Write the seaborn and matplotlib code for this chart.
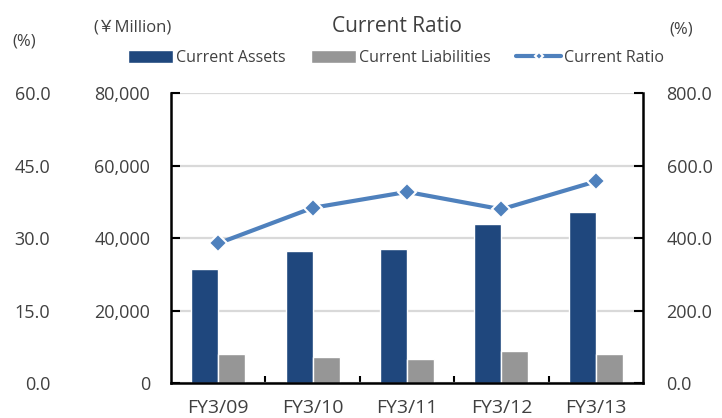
import numpy as np
import pandas as pd
import seaborn as sns
import matplotlib.pyplot as plt
from matplotlib.lines import Line2D
from matplotlib.patches import Patch

# data
years = ['FY3/09', 'FY3/10', 'FY3/11', 'FY3/12', 'FY3/13']
current_assets = [31400, 36600, 37000, 43900, 47300]       # ¥ million
current_liabilities = [8150, 7250, 6800, 9000, 8150]       # ¥ million
current_ratio = [386.0, 484.0, 528.0, 480.0, 557.0]        # %

left_ticks = [0, 20000, 40000, 60000, 80000]
right_ticks = [0, 200, 400, 600, 800]
outer_ticks = [0, 15, 30, 45, 60]

C_ASSETS = '#1F477D'
C_LIAB = '#969696'
C_RATIO = '#4F81BD'
TXT = '#404040'

sns.set_theme(style='white')
plt.rcParams['font.family'] = ['Open Sans', 'Noto Sans CJK JP', 'DejaVu Sans']

df = pd.DataFrame({
    'year': years * 2,
    'value': current_assets + current_liabilities,
    'kind': ['Current Assets'] * 5 + ['Current Liabilities'] * 5,
})

fig = plt.figure(figsize=(7.22, 4.18), dpi=100)
ax = fig.add_axes([171 / 722, 1 - 383.3 / 418, (643 - 171) / 722, (383.3 - 93.3) / 418])

sns.barplot(data=df, x='year', y='value', hue='kind', order=years,
            palette=[C_ASSETS, C_LIAB], width=0.57, gap=0, dodge=True,
            saturation=1, legend=False, ax=ax)

ax.set_xlim(-0.5, 4.5)
ax.set_ylim(0, 80000)
ax.set_yticks(left_ticks)
ax.set_yticklabels([f'{v:,}' for v in left_ticks])
ax.set_xlabel('')
ax.set_ylabel('')
ax.yaxis.grid(True, color='#d9d9d9', linewidth=1.6)
ax.set_axisbelow(True)
for s in ['top', 'right']:
    ax.spines[s].set_visible(False)
for s in ['left', 'bottom']:
    ax.spines[s].set_color('black')
    ax.spines[s].set_linewidth(1.8)
ax.tick_params(axis='y', direction='in', length=6.5, width=1.5, color='black',
               pad=15, labelsize=13, labelcolor=TXT, left=True)

# current ratio on the right axis
ax2 = ax.twinx()
sns.pointplot(x=years, y=current_ratio, ax=ax2, color=C_RATIO, markers='D',
              markersize=9, linewidth=3, markeredgecolor='white',
              markeredgewidth=1.5, errorbar=None)
ax2.set_xlim(-0.5, 4.5)
ax2.set_ylim(0, 800)
ax2.set_yticks(right_ticks)
ax2.set_yticklabels([f'{v:.1f}' for v in right_ticks])
for s in ['top', 'left', 'bottom']:
    ax2.spines[s].set_visible(False)
ax2.spines['right'].set_color('black')
ax2.spines['right'].set_linewidth(1.8)
ax2.tick_params(axis='y', direction='in', length=6.5, width=1.5, color='black',
                pad=17, labelsize=13, labelcolor=TXT, right=True)
ax2.set_xlabel('')
ax2.set_ylabel('')
ax2.grid(False)

# outer left (%) scale
ax3 = ax.twinx()
ax3.set_ylim(0, 60)
ax3.set_yticks(outer_ticks)
ax3.set_yticklabels([f'{v:.1f}' for v in outer_ticks])
ax3.yaxis.tick_left()
for s in ax3.spines.values():
    s.set_visible(False)
ax3.tick_params(axis='y', length=0, pad=87, labelsize=13, labelcolor=TXT)
ax3.tick_params(axis='x', which='both', bottom=False, labelbottom=False)
ax3.grid(False)
ax3.patch.set_visible(False)

# category labels and boundary ticks on the main axes
ax.set_xticks(range(len(years)))
ax.set_xticklabels(years)
ax.set_xticks([0.5, 1.5, 2.5, 3.5], minor=True)
ax.tick_params(axis='x', which='minor', direction='in', length=5, width=1.5,
               color='black', bottom=True)
ax.tick_params(axis='x', which='major', length=0, pad=11, labelsize=14,
               labelcolor=TXT, labelbottom=True)

# header texts
fig.text(396.5 / 722, 1 - 27 / 418, 'Current Ratio', ha='center', va='center',
         fontsize=15, color=TXT)
fig.text(133 / 722, 1 - 27 / 418, '(￥Million)', ha='center', va='center',
         fontsize=12, color=TXT)
fig.text(24 / 722, 1 - 41 / 418, '(%)', ha='center', va='center',
         fontsize=12, color=TXT)
fig.text(681 / 722, 1 - 30 / 418, '(%)', ha='center', va='center',
         fontsize=12, color=TXT)

handles = [
    Patch(facecolor=C_ASSETS),
    Patch(facecolor=C_LIAB),
    Line2D([0], [0], color=C_RATIO, linewidth=3, marker='D', markersize=4,
           markeredgecolor='white', markeredgewidth=1.5),
]
fig.legend(handles, ['Current Assets', 'Current Liabilities', 'Current Ratio'],
           loc='center', bbox_to_anchor=(396 / 722, 1 - 58 / 418), ncol=3,
           frameon=False, fontsize=11.5, handlelength=2.8, handleheight=0.8,
           handletextpad=0.2, columnspacing=1.6, labelcolor=TXT)

fig.savefig('out.png', dpi=100)
